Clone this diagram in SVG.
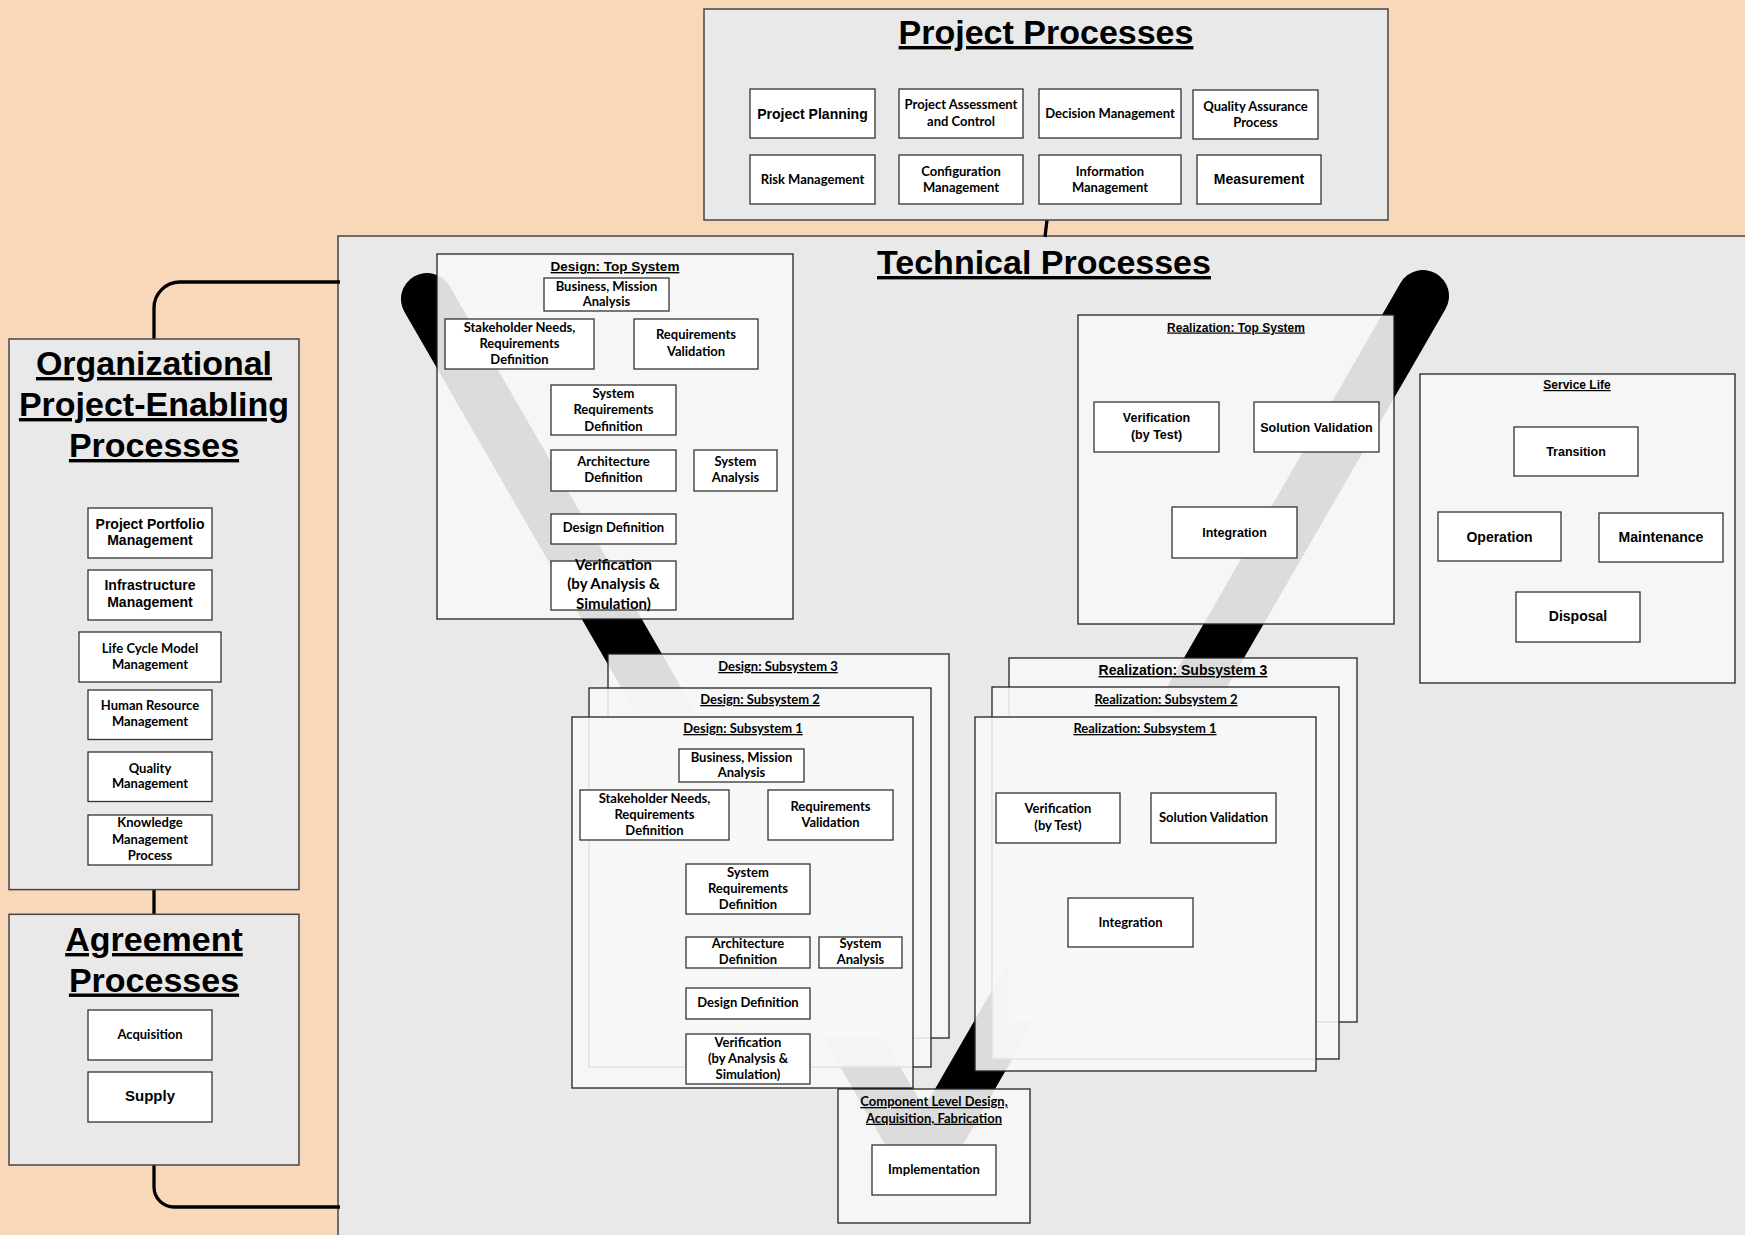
<svg xmlns="http://www.w3.org/2000/svg" width="1745" height="1235" viewBox="0 0 1745 1235">
  <style>
    .panel{fill:#e9e9e9;stroke:#454545;stroke-width:1.5}
    .frame{fill:#f7f7f7;fill-opacity:0.89;stroke:#222;stroke-width:1.3}
    .box{fill:#fff;stroke:#333;stroke-width:1.3}
    .conn{fill:none;stroke:#000;stroke-width:3.3;stroke-linecap:butt}
    text{fill:#000;text-anchor:middle;font-weight:bold}
    .big{font-family:"Liberation Sans",Arial,sans-serif;font-size:34px;text-decoration:underline}
    .a{font-family:"Liberation Sans",Arial,sans-serif;font-size:14px}
    .a12{font-family:"Liberation Sans",Arial,sans-serif;font-size:12.5px}
    .c{font-family:Lato,"Open Sans",sans-serif;font-size:13px}
    .cl{font-family:Lato,"Open Sans",sans-serif;font-size:15px}
    .u{text-decoration:underline}
  </style>

  <!-- page background -->
  <rect x="0" y="0" width="1745" height="1235" fill="#f9d7b9"/>

  <!-- Technical Processes panel (extends past the page edge) -->
  <g id="technical-processes">
    <rect class="panel" x="338" y="236" width="1420" height="1010"/>
    <text class="big" x="1044" y="274">Technical Processes</text>
  </g>

  <!-- V life-cycle band, drawn under the translucent stage frames -->
  <path id="v-band" d="M427,299 L924,1160 L1423,296" fill="none" stroke="#000" stroke-width="52" stroke-linecap="round" stroke-linejoin="round"/>

  <!-- connectors -->
  <g id="connectors">
    <path class="conn" d="M154,339 V308 A26,26 0 0 1 180,282 H340"/>
    <path class="conn" d="M154,889.6 V914.3"/>
    <path class="conn" d="M154,1165 V1187 A20,20 0 0 0 174,1207 H340"/>
    <path class="conn" d="M1047,220 L1045,237"/>
  </g>

  <!-- Project Processes -->
  <g id="project-processes">
    <rect class="panel" x="704" y="9" width="684" height="211"/>
    <text class="big" x="1046" y="44">Project Processes</text>
    <g id="project-planning"><rect class="box" x="750" y="89" width="125" height="49"/><text class="a" x="812.5" y="118.5">Project Planning</text></g>
    <g id="project-assessment"><rect class="box" x="899" y="89" width="124" height="49"/><text class="c" x="961" y="109">Project Assessment</text><text class="c" x="961" y="125.5">and Control</text></g>
    <g id="decision-management"><rect class="box" x="1039" y="89" width="142" height="49"/><text class="c" x="1110" y="118">Decision Management</text></g>
    <g id="quality-assurance"><rect class="box" x="1193" y="90" width="125" height="49"/><text class="c" x="1255.5" y="111">Quality Assurance</text><text class="c" x="1255.5" y="127">Process</text></g>
    <g id="risk-management"><rect class="box" x="750" y="155" width="125" height="49"/><text class="c" x="812.5" y="183.5">Risk Management</text></g>
    <g id="configuration-management"><rect class="box" x="899" y="155" width="124" height="49"/><text class="c" x="961" y="175.5">Configuration</text><text class="c" x="961" y="192">Management</text></g>
    <g id="information-management"><rect class="box" x="1039" y="155" width="142" height="49"/><text class="c" x="1110" y="175.5">Information</text><text class="c" x="1110" y="192">Management</text></g>
    <g id="measurement"><rect class="box" x="1197" y="155" width="124" height="49"/><text class="a" x="1259" y="184">Measurement</text></g>
  </g>

  <!-- Organizational Project-Enabling Processes -->
  <g id="organizational-processes">
    <rect class="panel" x="9" y="339" width="290" height="550.6"/>
    <text class="big" x="154" y="375">Organizational</text>
    <text class="big" x="154" y="416">Project-Enabling</text>
    <text class="big" x="154" y="457">Processes</text>
    <g id="portfolio-management"><rect class="box" x="88" y="508" width="124" height="50"/><text class="a" x="150" y="528.5">Project Portfolio</text><text class="a" x="150" y="545">Management</text></g>
    <g id="infrastructure-management"><rect class="box" x="88" y="570" width="124" height="50"/><text class="a" x="150" y="590">Infrastructure</text><text class="a" x="150" y="606.5">Management</text></g>
    <g id="life-cycle-model-management"><rect class="box" x="79" y="632" width="142" height="50"/><text class="c" x="150" y="652.5">Life Cycle Model</text><text class="c" x="150" y="668.5">Management</text></g>
    <g id="human-resource-management"><rect class="box" x="88" y="690" width="124" height="49.5"/><text class="c" x="150" y="710">Human Resource</text><text class="c" x="150" y="726">Management</text></g>
    <g id="quality-management"><rect class="box" x="88" y="752" width="124" height="49.5"/><text class="c" x="150" y="772.7">Quality</text><text class="c" x="150" y="788.3">Management</text></g>
    <g id="knowledge-management"><rect class="box" x="88" y="815" width="124" height="50"/><text class="c" x="150" y="827">Knowledge</text><text class="c" x="150" y="843.5">Management</text><text class="c" x="150" y="859.8">Process</text></g>
  </g>

  <!-- Agreement Processes -->
  <g id="agreement-processes">
    <rect class="panel" x="9" y="914.3" width="290" height="250.7"/>
    <text class="big" x="154" y="951">Agreement</text>
    <text class="big" x="154" y="991.5">Processes</text>
    <g id="acquisition"><rect class="box" x="88" y="1010" width="124" height="50"/><text class="c" x="150" y="1039.3">Acquisition</text></g>
    <g id="supply"><rect class="box" x="88" y="1072" width="124" height="50"/><text class="a" x="150" y="1101" style="font-size:15px">Supply</text></g>
  </g>

  <!-- Design: Top System -->
  <g id="design-top-system">
    <rect class="frame" x="437" y="254" width="356" height="365"/>
    <text class="a u" x="615" y="271" style="font-size:13.5px">Design: Top System</text>
    <g><rect class="box" x="544" y="278" width="125" height="33"/><text class="c" x="606.5" y="290.7">Business, Mission</text><text class="c" x="606.5" y="306">Analysis</text></g>
    <g><rect class="box" x="445" y="319" width="149" height="50"/><text class="c" x="519.5" y="332">Stakeholder Needs,</text><text class="c" x="519.5" y="348.3">Requirements</text><text class="c" x="519.5" y="364">Definition</text></g>
    <g><rect class="box" x="634" y="319" width="124" height="50"/><text class="c" x="696" y="339.3">Requirements</text><text class="c" x="696" y="356">Validation</text></g>
    <g><rect class="box" x="551" y="385" width="125" height="50"/><text class="c" x="613.5" y="397.7">System</text><text class="c" x="613.5" y="414">Requirements</text><text class="c" x="613.5" y="430.7">Definition</text></g>
    <g><rect class="box" x="551" y="450" width="125" height="41"/><text class="c" x="613.5" y="465.7">Architecture</text><text class="c" x="613.5" y="482.3">Definition</text></g>
    <g><rect class="box" x="694" y="450" width="83" height="41"/><text class="c" x="735.5" y="465.7">System</text><text class="c" x="735.5" y="482.3">Analysis</text></g>
    <g><rect class="box" x="551" y="514" width="125" height="30"/><text class="c" x="613.5" y="532.3">Design Definition</text></g>
    <g><rect class="box" x="551" y="561" width="125" height="49"/><text class="cl" x="613.5" y="570">Verification</text><text class="cl" x="613.5" y="589.3">(by Analysis &amp;</text><text class="cl" x="613.5" y="609">Simulation)</text></g>
  </g>

  <!-- Design: Subsystems 3, 2, 1 (stacked) -->
  <g id="design-subsystem-3">
    <rect class="frame" x="608" y="654" width="341" height="384"/>
    <text class="c u" x="778" y="671">Design: Subsystem 3</text>
  </g>
  <g id="design-subsystem-2">
    <rect class="frame" x="589" y="688" width="342" height="379"/>
    <text class="c u" x="760" y="704">Design: Subsystem 2</text>
  </g>
  <g id="design-subsystem-1">
    <rect class="frame" x="572" y="717" width="341" height="371"/>
    <text class="c u" x="743" y="733">Design: Subsystem 1</text>
    <g><rect class="box" x="679" y="749" width="125" height="33"/><text class="c" x="741.5" y="761.7">Business, Mission</text><text class="c" x="741.5" y="777.3">Analysis</text></g>
    <g><rect class="box" x="580" y="790" width="149" height="50"/><text class="c" x="654.5" y="802.7">Stakeholder Needs,</text><text class="c" x="654.5" y="819.3">Requirements</text><text class="c" x="654.5" y="835">Definition</text></g>
    <g><rect class="box" x="768" y="790" width="125" height="50"/><text class="c" x="830.5" y="810.7">Requirements</text><text class="c" x="830.5" y="827.3">Validation</text></g>
    <g><rect class="box" x="686" y="864" width="124" height="50"/><text class="c" x="748" y="876.7">System</text><text class="c" x="748" y="892.7">Requirements</text><text class="c" x="748" y="909.3">Definition</text></g>
    <g><rect class="box" x="686" y="937" width="124" height="31"/><text class="c" x="748" y="948.3">Architecture</text><text class="c" x="748" y="964.3">Definition</text></g>
    <g><rect class="box" x="819" y="937" width="83" height="31"/><text class="c" x="860.5" y="948.3">System</text><text class="c" x="860.5" y="964.3">Analysis</text></g>
    <g><rect class="box" x="686" y="988" width="124" height="31"/><text class="c" x="748" y="1007.3">Design Definition</text></g>
    <g><rect class="box" x="686" y="1034" width="124" height="50"/><text class="c" x="748" y="1046.7">Verification</text><text class="c" x="748" y="1062.7">(by Analysis &amp;</text><text class="c" x="748" y="1079.3">Simulation)</text></g>
  </g>

  <!-- Realization: Top System -->
  <g id="realization-top-system">
    <rect class="frame" x="1078" y="315" width="316" height="309"/>
    <text class="a12 u" x="1236" y="331.5" style="font-size:12px">Realization: Top System</text>
    <g><rect class="box" x="1094" y="402" width="125" height="50"/><text class="a12" x="1156.5" y="421.7">Verification</text><text class="a12" x="1156.5" y="439.3">(by Test)</text></g>
    <g><rect class="box" x="1254" y="402" width="125" height="50"/><text class="a12" x="1316.5" y="431.7">Solution Validation</text></g>
    <g><rect class="box" x="1172" y="507" width="125" height="51"/><text class="a12" x="1234.5" y="537">Integration</text></g>
  </g>

  <!-- Realization: Subsystems 3, 2, 1 (stacked) -->
  <g id="realization-subsystem-3">
    <rect class="frame" x="1009" y="658" width="348" height="364"/>
    <text class="a u" x="1183" y="675">Realization: Subsystem 3</text>
  </g>
  <g id="realization-subsystem-2">
    <rect class="frame" x="992" y="687" width="347" height="372"/>
    <text class="c u" x="1166" y="704">Realization: Subsystem 2</text>
  </g>
  <g id="realization-subsystem-1">
    <rect class="frame" x="975" y="717" width="341" height="354"/>
    <text class="c u" x="1145" y="733">Realization: Subsystem 1</text>
    <g><rect class="box" x="996" y="793" width="124" height="50"/><text class="c" x="1058" y="813.3">Verification</text><text class="c" x="1058" y="830">(by Test)</text></g>
    <g><rect class="box" x="1151" y="793" width="125" height="50"/><text class="c" x="1213.5" y="821.7">Solution Validation</text></g>
    <g><rect class="box" x="1068" y="898" width="125" height="49"/><text class="c" x="1130.5" y="926.7">Integration</text></g>
  </g>

  <!-- Component level -->
  <g id="component-level">
    <rect class="frame" x="838" y="1089" width="192" height="134"/>
    <text class="c u" x="934" y="1106">Component Level Design,</text>
    <text class="c u" x="934" y="1122.7">Acquisition, Fabrication</text>
    <g id="implementation"><rect class="box" x="872" y="1145" width="124" height="50"/><text class="c" x="934" y="1173.5">Implementation</text></g>
  </g>

  <!-- Service Life -->
  <g id="service-life">
    <rect class="frame" x="1420" y="374" width="315" height="309"/>
    <text class="a u" x="1577" y="389" style="font-size:12px">Service Life</text>
    <g id="transition"><rect class="box" x="1514" y="427" width="124" height="49"/><text class="a" x="1576" y="456" style="font-size:12.5px">Transition</text></g>
    <g id="operation"><rect class="box" x="1438" y="512" width="123" height="49"/><text class="a" x="1499.5" y="541.5">Operation</text></g>
    <g id="maintenance"><rect class="box" x="1599" y="513" width="124" height="49"/><text class="a" x="1661" y="542">Maintenance</text></g>
    <g id="disposal"><rect class="box" x="1516" y="592" width="124" height="50"/><text class="a" x="1578" y="621">Disposal</text></g>
  </g>
</svg>
